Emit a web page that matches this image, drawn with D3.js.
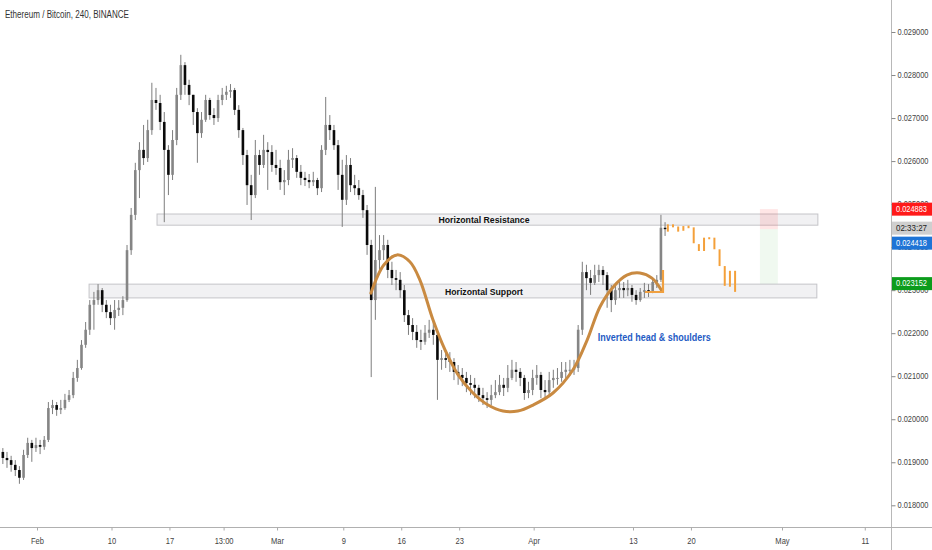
<!DOCTYPE html>
<html><head><meta charset="utf-8">
<script src="https://cdn.jsdelivr.net/npm/d3@7"></script>
<style>body{margin:0;background:#fff;overflow:hidden} svg{display:block}</style>
</head><body><svg id="c" width="932" height="550"></svg>
<script>
// ---------- DATA ----------
const title = "Ethereum / Bitcoin, 240, BINANCE";
const candleStart = "2020-01-27T09:00:00Z";
const candleHours = 12;
const firstOpen = 0.01933;
const closes = [
0.01924,0.01910,0.01905,0.01894,0.01882,0.01864,0.01917,0.01945,0.01933,0.01940,
0.01936,0.01952,0.02026,0.02033,0.02022,0.02026,0.02045,0.02056,0.02096,0.02119,
0.02173,0.02208,0.02266,0.02277,0.02300,0.02266,0.02249,0.02235,0.02254,0.02259,
0.02277,0.02393,0.02475,0.02579,0.02626,0.02607,0.02672,0.02742,0.02735,0.02691,
0.02626,0.02568,0.02649,0.02754,0.02823,0.02777,0.02754,0.02714,0.02665,0.02696,
0.02742,0.02707,0.02700,0.02742,0.02754,0.02761,0.02765,0.02719,0.02672,0.02614,
0.02544,0.02521,0.02614,0.02591,0.02626,0.02621,0.02591,0.02584,0.02551,0.02556,
0.02603,0.02607,0.02575,0.02561,0.02556,0.02551,0.02556,0.02537,0.02626,0.02684,
0.02672,0.02637,0.02568,0.02510,0.02591,0.02544,0.02537,0.02521,0.02486,0.02405,
0.02277,0.02370,0.02393,0.02405,0.02347,0.02328,0.02324,0.02300,0.02242,0.02219,
0.02203,0.02184,0.02180,0.02201,0.02208,0.02196,0.02138,0.02142,0.02138,0.02133,
0.02110,0.02103,0.02096,0.02084,0.02080,0.02073,0.02056,0.02049,0.02045,0.02056,
0.02063,0.02080,0.02073,0.02096,0.02115,0.02110,0.02096,0.02061,0.02068,0.02096,
0.02103,0.02068,0.02063,0.02091,0.02096,0.02096,0.02110,0.02115,0.02115,0.02119,
0.02208,0.02342,0.02328,0.02317,0.02335,0.02347,0.02335,0.02300,0.02277,0.02300,
0.02305,0.02300,0.02305,0.02289,0.02277,0.02296,0.02300,0.02298,0.02319,0.02324,
0.02445,0.024418];
const highs = [
0.01952,0.01933,0.01924,0.01915,0.01905,0.01891,0.01929,0.01957,0.01952,0.01957,
0.01952,0.01961,0.02040,0.02045,0.02040,0.02045,0.02059,0.02068,0.02110,0.02138,
0.02184,0.02226,0.02277,0.02296,0.02314,0.02305,0.02277,0.02266,0.02277,0.02277,
0.02286,0.02405,0.02491,0.02596,0.02644,0.02684,0.02696,0.02782,0.02770,0.02754,
0.02714,0.02637,0.02672,0.02770,0.02847,0.02830,0.02789,0.02754,0.02723,0.02714,
0.02754,0.02747,0.02723,0.02754,0.02770,0.02775,0.02779,0.02770,0.02730,0.02677,
0.02626,0.02568,0.02649,0.02626,0.02661,0.02644,0.02637,0.02626,0.02603,0.02579,
0.02626,0.02630,0.02614,0.02591,0.02575,0.02570,0.02575,0.02561,0.02637,0.02749,
0.02707,0.02684,0.02649,0.02603,0.02614,0.02607,0.02568,0.02556,0.02533,0.02498,
0.02417,0.02540,0.02428,0.02428,0.02417,0.02366,0.02347,0.02342,0.02312,0.02254,
0.02235,0.02219,0.02208,0.02219,0.02231,0.02235,0.02208,0.02161,0.02161,0.02156,
0.02142,0.02126,0.02119,0.02110,0.02103,0.02096,0.02080,0.02073,0.02063,0.02080,
0.02091,0.02103,0.02096,0.02126,0.02138,0.02133,0.02119,0.02103,0.02087,0.02115,
0.02126,0.02110,0.02091,0.02110,0.02115,0.02119,0.02133,0.02133,0.02138,0.02138,
0.02219,0.02366,0.02359,0.02347,0.02359,0.02359,0.02356,0.02342,0.02312,0.02312,
0.02319,0.02319,0.02324,0.02312,0.02300,0.02305,0.02317,0.02314,0.02328,0.02335,
0.02475,0.02458];
const lows = [
0.01910,0.01896,0.01887,0.01878,0.01868,0.01850,0.01859,0.01910,0.01901,0.01924,
0.01919,0.01929,0.01947,0.02012,0.02008,0.02012,0.02022,0.02040,0.02049,0.02087,
0.02115,0.02166,0.02196,0.02208,0.02266,0.02249,0.02235,0.02219,0.02208,0.02240,
0.02242,0.02273,0.02382,0.02463,0.02514,0.02591,0.02598,0.02661,0.02719,0.02672,
0.02458,0.02521,0.02556,0.02637,0.02742,0.02754,0.02730,0.02684,0.02596,0.02654,
0.02691,0.02696,0.02684,0.02691,0.02730,0.02742,0.02747,0.02707,0.02654,0.02591,
0.02498,0.02463,0.02514,0.02568,0.02584,0.02533,0.02575,0.02568,0.02533,0.02521,
0.02544,0.02584,0.02561,0.02544,0.02542,0.02537,0.02542,0.02521,0.02528,0.02614,
0.02649,0.02626,0.02533,0.02447,0.02498,0.02528,0.02521,0.02510,0.02468,0.02382,
0.02098,0.02231,0.02347,0.02370,0.02328,0.02312,0.02300,0.02282,0.02226,0.02196,
0.02184,0.02166,0.02161,0.02173,0.02189,0.02173,0.02045,0.02115,0.02119,0.02110,
0.02091,0.02080,0.02077,0.02063,0.02056,0.02049,0.02040,0.02033,0.02026,0.02033,
0.02049,0.02056,0.02054,0.02063,0.02091,0.02087,0.02077,0.02045,0.02049,0.02056,
0.02080,0.02049,0.02045,0.02056,0.02073,0.02080,0.02087,0.02096,0.02101,0.02103,
0.02110,0.02196,0.02300,0.02289,0.02312,0.02319,0.02312,0.02259,0.02249,0.02266,
0.02282,0.02282,0.02286,0.02273,0.02266,0.02273,0.02282,0.02284,0.02293,0.02305,
0.02319,0.02426];

// projected (orange) bars
const projTimes = ["2020-04-17T05:00:00Z","2020-04-17T20:00:00Z","2020-04-18T11:00:00Z","2020-04-19T02:00:00Z",
  "2020-04-19T17:00:00Z","2020-04-20T08:00:00Z","2020-04-20T23:00:00Z","2020-04-21T14:00:00Z",
  "2020-04-22T05:00:00Z","2020-04-22T20:00:00Z","2020-04-23T11:00:00Z","2020-04-24T02:00:00Z",
  "2020-04-24T17:00:00Z","2020-04-25T08:00:00Z"];
const projHigh = [0.02453,0.02453,0.02448,0.02449,0.02450,0.02446,0.02407,0.02422,0.02423,0.02422,0.02395,0.02356,0.02345,0.02345];
const projLow  = [0.02436,0.02446,0.02436,0.02438,0.02444,0.02409,0.02391,0.02391,0.02419,0.02395,0.02356,0.02310,0.02308,0.02296];

// inverted head & shoulders curve
const curveTimes = ["2020-03-12T08:00:00Z","2020-03-13T22:00:00Z","2020-03-15T12:00:00Z","2020-03-17T01:00:00Z",
  "2020-03-18T06:00:00Z","2020-03-19T20:00:00Z","2020-03-21T07:00:00Z","2020-03-22T21:00:00Z",
  "2020-03-24T16:00:00Z","2020-03-26T12:00:00Z","2020-03-28T07:00:00Z","2020-03-30T02:00:00Z",
  "2020-03-31T22:00:00Z","2020-04-03T08:00:00Z","2020-04-05T18:00:00Z","2020-04-07T11:00:00Z",
  "2020-04-09T00:00:00Z","2020-04-10T14:00:00Z","2020-04-12T06:00:00Z","2020-04-13T20:00:00Z",
  "2020-04-15T07:00:00Z","2020-04-16T12:00:00Z"];
const curvePrices = [0.02293,0.02359,0.02382,0.02366,0.02324,0.02231,0.02161,0.02103,0.02061,0.02033,0.02019,
  0.02019,0.02033,0.02061,0.02115,0.02184,0.02261,0.02307,0.02335,0.02340,0.02328,0.02298];

// zones
const zoneNames = ["Horizontal Resistance","Horizontal Support"];
const zoneStart = ["2020-02-15T12:00:00Z","2020-02-07T07:00:00Z"];
const zoneEnd   = ["2020-05-05T08:00:00Z","2020-05-05T05:00:00Z"];
const zoneLow   = [0.02451,0.02282];
const zoneHigh  = [0.02477,0.02314];
const zoneLabelTime = ["2020-03-26T00:00:00Z","2020-03-26T00:00:00Z"];

const patternLabel = "Inverted head & shoulders";
const patternLabelTime = "2020-04-08T18:00:00Z";
const patternLabelPrice = 0.02191;

// short position box
const posStart = "2020-04-28T08:00:00Z", posEnd = "2020-04-30T12:00:00Z";
const posStop = 0.024883, posEntry = 0.024418, posTarget = 0.023152;
const countdown = "02:33:27";

// axes
const priceTicks = [0.018,0.019,0.020,0.021,0.022,0.023,0.024,0.025,0.026,0.027,0.028,0.029];
const timeTickDates = ["2020-02-01","2020-02-10","2020-02-17","2020-02-23T13:00:00Z","2020-03-01","2020-03-09",
  "2020-03-16","2020-03-23","2020-04-01","2020-04-13","2020-04-20","2020-05-01","2020-05-11"];
const timeTickLabels = ["Feb","10","17","13:00","Mar","9","16","23","Apr","13","20","May","11"];

// ---------- DRAW ----------
const W = 932, H = 550, axisX = 891, axisY = 527;
const FONT = '"Liberation Sans","DejaVu Sans",sans-serif';
const svg = d3.select("#c");
const x = d3.scaleUtc().domain([new Date("2020-02-01T00:00:00Z"), new Date("2020-05-01T00:00:00Z")]).range([37, 782]);
const y = d3.scaleLinear().domain([0.018, 0.029]).range([505.3, 32]);

// condensed look: squeeze glyphs horizontally (by factor, or to a target width)
function condense(sel, f, target){
  sel.each(function(){
    const w = this.getComputedTextLength();
    const t = target ? Math.min(target, w) : w*f;
    this.setAttribute("textLength", t.toFixed(1));
    this.setAttribute("lengthAdjust","spacingAndGlyphs");
  });
}

const plot = svg.append("g");
plot.append("clipPath").attr("id","clip").append("rect").attr("x",0).attr("y",0).attr("width",axisX).attr("height",axisY);
const g = plot.append("g").attr("clip-path","url(#clip)");

// zones
zoneNames.forEach((n,i)=>{
  g.append("rect").attr("x",x(new Date(zoneStart[i]))).attr("width",x(new Date(zoneEnd[i]))-x(new Date(zoneStart[i])))
   .attr("y",y(zoneHigh[i])).attr("height",y(zoneLow[i])-y(zoneHigh[i]))
   .attr("fill","#f1f1f3").attr("stroke","#c4c4c8").attr("stroke-width",1);
});

// position box
g.append("rect").attr("x",x(new Date(posStart))).attr("width",x(new Date(posEnd))-x(new Date(posStart)))
  .attr("y",y(posStop)).attr("height",y(posEntry)-y(posStop)).attr("fill","rgba(255,60,60,0.13)");
g.append("rect").attr("x",x(new Date(posStart))).attr("width",x(new Date(posEnd))-x(new Date(posStart)))
  .attr("y",y(posEntry)).attr("height",y(posTarget)-y(posEntry)).attr("fill","rgba(40,170,40,0.07)");

// candles
const t0 = new Date(candleStart).getTime();
const candles = closes.map((c,i)=>({t:new Date(t0+i*candleHours*3600e3), o:i?closes[i-1]:firstOpen, c, h:highs[i], l:lows[i]}));
const bw = 2.6;
const cg = g.append("g");
cg.selectAll("line.w").data(candles).join("line").attr("class","w")
  .attr("x1",d=>x(d.t)).attr("x2",d=>x(d.t)).attr("y1",d=>y(d.h)).attr("y2",d=>y(d.l))
  .attr("stroke","#7d7d7d").attr("stroke-width",1);
cg.selectAll("rect.b").data(candles).join("rect").attr("class","b")
  .attr("x",d=>x(d.t)-bw/2).attr("width",bw)
  .attr("y",d=>y(Math.max(d.o,d.c))).attr("height",d=>Math.max(1,Math.abs(y(d.o)-y(d.c))))
  .attr("fill",d=>d.c>=d.o?"#858585":"#0a0a0a");

// projected bars
g.selectAll("line.p").data(projTimes).join("line").attr("class","p")
  .attr("x1",d=>x(new Date(d))).attr("x2",d=>x(new Date(d)))
  .attr("y1",(d,i)=>y(projHigh[i])).attr("y2",(d,i)=>Math.max(y(projLow[i]),y(projHigh[i])+2))
  .attr("stroke","#f4a03a").attr("stroke-width",2);

// curve
const cpts = curveTimes.map((t,i)=>[x(new Date(t)), y(curvePrices[i])]);
g.append("path").attr("d",d3.line().curve(d3.curveCatmullRom)(cpts))
  .attr("fill","none").attr("stroke","#c98a41").attr("stroke-width",3).attr("stroke-linecap","round");
const tip = cpts[cpts.length-1];
g.append("path").attr("d",`M${tip[0]+1},${tip[1]-21}L${tip[0]+1},${tip[1]+1}L${tip[0]-17},${tip[1]+1}`)
  .attr("fill","none").attr("stroke","#f0a040").attr("stroke-width",2.2);

// zone labels
const zoneLabelWidth = [91, 78];
zoneNames.forEach((n,i)=>{
  const t = g.append("text").attr("x",x(new Date(zoneLabelTime[i]))).attr("y",(y(zoneHigh[i])+y(zoneLow[i]))/2)
   .attr("text-anchor","middle").attr("dominant-baseline","central")
   .attr("font-family",FONT).attr("font-weight","bold").attr("font-size",9.5).attr("fill","#111").text(n);
  condense(t, 1, zoneLabelWidth[i]);
});
const pl = g.append("text").attr("x",x(new Date(patternLabelTime))).attr("y",y(patternLabelPrice))
  .attr("dominant-baseline","central").attr("font-family",FONT).attr("font-weight","bold")
  .attr("font-size",10).attr("fill","#1f5bc4").text(patternLabel);
condense(pl, 1, 113);

// axes lines
svg.append("line").attr("x1",axisX+0.5).attr("x2",axisX+0.5).attr("y1",0).attr("y2",H).attr("stroke","#b8b8b8");
svg.append("line").attr("x1",0).attr("x2",W).attr("y1",axisY+0.5).attr("y2",axisY+0.5).attr("stroke","#b0b0b0");

// price axis
const ya = svg.append("g").attr("transform",`translate(${axisX+0.5},0)`)
  .call(d3.axisRight(y).tickValues(priceTicks).tickFormat(d3.format(".6f")).tickSize(4).tickPadding(2));
ya.select(".domain").remove();
ya.selectAll("line").attr("stroke","#888");
ya.selectAll("text").attr("font-family",FONT).attr("font-size",8.2).attr("fill","#444");
condense(ya.selectAll("text"), 1, 31);

// time axis
const xa = svg.append("g").attr("transform",`translate(0,${axisY+0.5})`)
  .call(d3.axisBottom(x).tickValues(timeTickDates.map(d=>new Date(d.length>10?d:d+"T00:00:00Z")))
  .tickFormat((d,i)=>timeTickLabels[i]).tickSize(3).tickPadding(7));
xa.select(".domain").remove();
xa.selectAll("line").attr("stroke","#aaa");
xa.selectAll("text").attr("font-family",FONT).attr("font-size",9).attr("fill","#444");
condense(xa.selectAll("text"), 0.84);

// price labels on axis
function tag(yc, bg, fg, txt){
  svg.append("rect").attr("x",axisX+1).attr("y",yc-6.5).attr("width",W-axisX-1).attr("height",13).attr("fill",bg);
  const t = svg.append("text").attr("x",axisX+5).attr("y",yc).attr("dominant-baseline","central")
    .attr("font-family",FONT).attr("font-size",8.2).attr("fill",fg).text(txt);
  condense(t, 1, 31);
}
tag(y(posStop), "#ff1a1a", "#fff", d3.format(".6f")(posStop));
tag(y(posEntry)-1, "#cfcfcf", "#222", countdown);
tag(y(posEntry)+14, "#1e74d6", "#fff", d3.format(".6f")(posEntry));
tag(y(posTarget), "#0c9c1c", "#fff", d3.format(".6f")(posTarget));

// title
const tt = svg.append("text").attr("x",5).attr("y",14).attr("dominant-baseline","central")
  .attr("font-family",FONT).attr("font-size",10).attr("fill","#333").text(title);
condense(tt, 1, 124);
</script></body></html>
